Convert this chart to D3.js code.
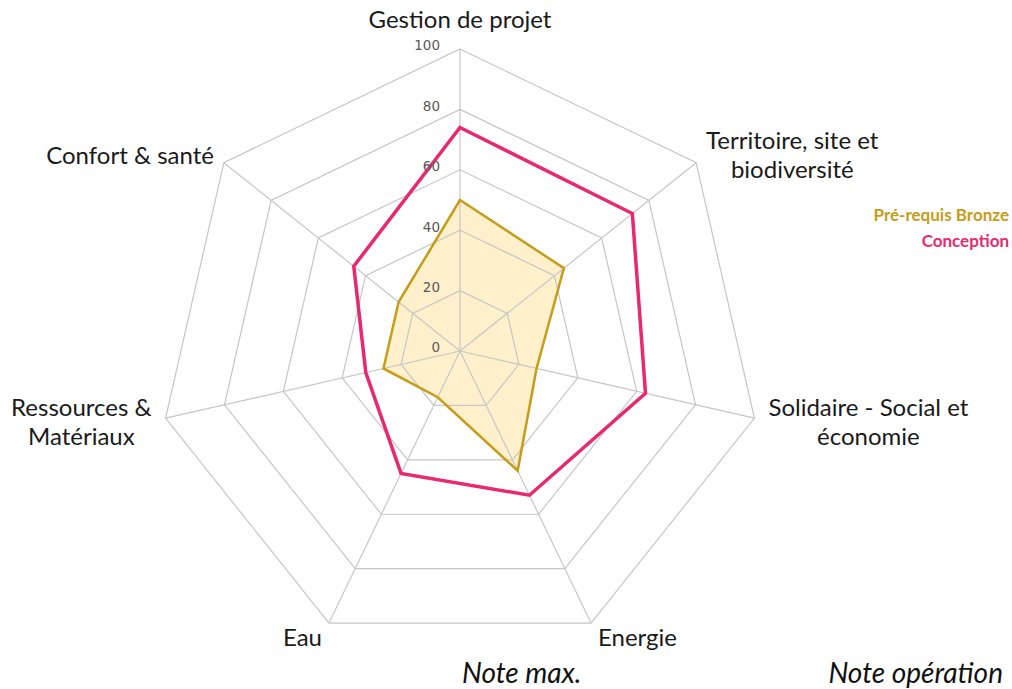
<!DOCTYPE html>
<html><head><meta charset="utf-8">
<script src="https://cdn.jsdelivr.net/npm/d3@7/dist/d3.min.js"></script>
<style>
html,body{margin:0;padding:0;background:#fff;}
svg{display:block;font-family:Lato,"DejaVu Sans",sans-serif;}
</style></head>
<body>
<svg id="chart" width="1012" height="689"></svg>
<script>
const categories = [
  ["Gestion de projet"],
  ["Territoire, site et", "biodiversité"],
  ["Solidaire - Social et", "économie"],
  ["Energie"],
  ["Eau"],
  ["Ressources &", "Matériaux"],
  ["Confort & santé"]
];
const bronzeValues = [50, 44, 26, 44, 17, 26, 26];
const conceptionValues = [74, 73, 63, 53, 45, 32, 45];
const tickValues = [0, 20, 40, 60, 80, 100];
const seriesNames = ["Pré-requis Bronze", "Conception"];
const noteLabels = ["Note max.", "Note opération"];

const svg = d3.select("#chart");
const cx = 460, cy = 351, R = 302;
const n = categories.length;
const r = d3.scaleLinear().domain([0, 100]).range([0, R]);
const ang = d3.scaleLinear().domain([0, n]).range([0, 2 * Math.PI]);
const pt = (i, v) => [cx + r(v) * Math.sin(ang(i)), cy - r(v) * Math.cos(ang(i))];

const lineGen = d3.line().curve(d3.curveLinearClosed);
const poly = vals => lineGen(vals.map((v, i) => pt(i, v)));

// bronze fill
svg.append("path").attr("d", poly(bronzeValues))
  .attr("fill", "#fff0cc").attr("stroke", "none");

// grid
const grid = svg.append("g").attr("fill", "none").attr("stroke", "#c6c6c6").attr("stroke-width", 1.2);
tickValues.filter(t => t > 0).forEach(t => {
  grid.append("path").attr("d", poly(d3.range(n).map(() => t)));
});
d3.range(n).forEach(i => {
  const [x, y] = pt(i, 100);
  grid.append("line").attr("x1", cx).attr("y1", cy).attr("x2", x).attr("y2", y);
});

// series lines
svg.append("path").attr("d", poly(bronzeValues))
  .attr("fill", "none").attr("stroke", "#c69c1a").attr("stroke-width", 2.5).attr("stroke-linejoin", "miter");
svg.append("path").attr("d", poly(conceptionValues))
  .attr("fill", "none").attr("stroke", "#e8296f").attr("stroke-width", 3.5).attr("stroke-linejoin", "miter");

// tick labels
svg.append("g").selectAll("text").data(tickValues).join("text")
  .attr("x", cx - 20).attr("y", d => cy - r(d))
  .attr("dy", "0.1em")
  .attr("text-anchor", "end")
  .attr("font-family", "'DejaVu Sans', sans-serif")
  .attr("font-size", 13.5).attr("fill", "#5a5a5a")
  .text(d => d);

// axis labels
const lineH = 29;
categories.forEach((lines, i) => {
  const a = ang(i);
  const s = Math.sin(a), c = Math.cos(a);
  const [vx, vy] = pt(i, 100);
  const g = svg.append("g");
  const t = g.append("text").attr("font-size", 24).attr("fill", "#1a1a1a").attr("text-anchor", "middle");
  lines.forEach((l, j) => t.append("tspan").attr("x", 0).attr("y", j * lineH).text(l));
  const w = d3.max(t.selectAll("tspan").nodes(), nd => nd.getComputedTextLength());
  let x, y0;
  if (Math.abs(s) < 0.1) {
    x = vx; y0 = vy - 21;
  } else {
    const pad = Math.abs(c) > 0.8 ? 7 : (Math.abs(c) < 0.4 ? 14 : 10);
    x = s > 0 ? vx + pad + w / 2 : vx - pad - w / 2;
    let centerY;
    if (c > 0.1) centerY = vy - 7;
    else if (c < -0.5) centerY = vy + 15;
    else centerY = vy + 4;
    y0 = centerY - (lines.length - 1) * lineH / 2 + 8;
  }
  g.attr("transform", `translate(${x},${y0})`);
});

// legend
const legendColors = ["#c69c1a", "#e8296f"];
svg.append("g").selectAll("text").data(seriesNames).join("text")
  .attr("x", 1009).attr("y", (d, i) => 221 + i * 26)
  .attr("text-anchor", "end").attr("font-size", 17).attr("font-weight", "bold")
  .attr("fill", (d, i) => legendColors[i])
  .text(d => d);

// notes
svg.append("text").attr("x", 462).attr("y", 683).attr("font-size", 28).attr("font-style", "italic")
  .attr("fill", "#111").text(noteLabels[0]);
svg.append("text").attr("x", 1003).attr("y", 683).attr("text-anchor", "end").attr("font-size", 28)
  .attr("font-style", "italic").attr("fill", "#111").text(noteLabels[1]);
</script>
</body></html>
